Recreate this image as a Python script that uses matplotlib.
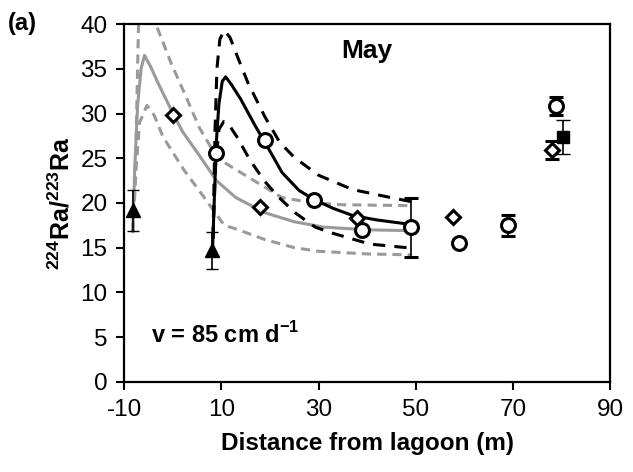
import matplotlib
matplotlib.use("Agg")
import matplotlib.pyplot as plt

plt.rcParams["font.family"] = ["Liberation Sans", "DejaVu Sans"]
plt.rcParams["axes.unicode_minus"] = False
plt.rcParams["mathtext.fontset"] = "custom"
plt.rcParams["mathtext.rm"] = "Liberation Sans"
plt.rcParams["mathtext.bf"] = "Liberation Sans:bold"

# model curves (x = distance, y = ratio)
gray_mid_x = [-8.2, -7.8, -7.2, -6.5, -5.8, -4.5, -3.0, -0.3, 2.0, 5.5, 9.0, 13.0, 19.0, 25.0, 31.0, 40.0, 49.0]
gray_mid_y = [16.8, 24.0, 31.0, 35.0, 36.5, 35.2, 33.4, 30.4, 28.0, 25.3, 22.5, 20.6, 18.9, 17.9, 17.3, 17.0, 16.9]

gray_hi_x = [-8.2, -7.6, -7.3, -7.0, -5.5, -3.4, -0.3, 2.8, 5.5, 9.0, 11.0, 15.5, 22.5, 29.0, 35.0, 49.0]
gray_hi_y = [16.8, 25.0, 33.0, 40.5, 43.0, 39.9, 35.6, 31.8, 28.4, 25.2, 24.4, 22.9, 20.6, 20.0, 19.8, 19.7]

gray_lo_x = [-8.2, -7.5, -6.8, -5.3, -3.8, -2.0, 2.3, 6.5, 10.6, 13.0, 19.0, 25.0, 30.0, 40.0, 49.0]
gray_lo_y = [16.8, 24.0, 29.0, 30.9, 29.8, 27.4, 23.7, 20.6, 17.5, 17.1, 15.9, 15.0, 14.6, 14.3, 14.2]

black_mid_x = [8.2, 8.6, 9.0, 9.5, 10.2, 10.9, 12.0, 14.0, 17.0, 20.0, 22.5, 26.0, 29.0, 33.0, 37.0, 42.0, 49.0]
black_mid_y = [14.8, 21.0, 27.0, 31.0, 33.6, 34.1, 33.3, 31.6, 28.6, 25.8, 23.4, 21.4, 20.4, 19.4, 18.6, 18.1, 17.6]

black_hi_x = [8.3, 8.7, 9.1, 9.7, 10.6, 11.8, 13.0, 15.5, 19.0, 22.0, 25.0, 30.0, 37.0, 44.0, 49.5]
black_hi_y = [16.0, 28.0, 35.0, 38.3, 39.3, 38.5, 36.8, 33.4, 29.6, 26.8, 25.1, 23.1, 21.5, 20.7, 20.1]

black_lo_x = [8.3, 8.8, 9.5, 10.5, 11.5, 13.2, 15.9, 18.8, 21.7, 25.2, 29.3, 33.0, 40.6, 48.2]
black_lo_y = [16.0, 24.0, 28.2, 29.1, 28.8, 27.4, 24.8, 22.5, 20.7, 18.9, 17.3, 16.6, 15.4, 15.0]

# measured points
circle_x = [8.9, 19.0, 29.0, 39.0, 49.0, 58.8, 69.0, 78.9]
circle_y = [25.6, 27.0, 20.3, 17.0, 17.3, 15.5, 17.5, 30.8]
circle_err = [0, 0, 0, 0, 3.3, 0, 1.2, 1.0]

diamond_x = [0.0, 18.0, 37.9, 57.7, 78.0]
diamond_y = [29.8, 19.6, 18.3, 18.4, 25.9]
diamond_err = [0, 0, 0, 0, 1.0]

square_x = [80.3]
square_y = [27.4]
square_err = [1.9]

tri_x = [-8.1, 8.1]
tri_y = [19.2, 14.7]
tri_err = [2.3, 2.1]

fig = plt.figure(figsize=(6.33, 4.72), dpi=100)
ax = fig.add_axes([0.196, 0.191, 0.768, 0.758])

gray = "#9a9a9a"
ax.plot(gray_hi_x, gray_hi_y, color=gray, lw=2.2, dashes=(3, 2))
ax.plot(gray_lo_x, gray_lo_y, color=gray, lw=2.2, dashes=(3, 2))
ax.plot(gray_mid_x, gray_mid_y, color=gray, lw=2.2)

ax.plot(black_hi_x, black_hi_y, color="black", lw=2.2, dashes=(4, 3))
ax.plot(black_lo_x, black_lo_y, color="black", lw=2.2, dashes=(4, 3))
ax.plot(black_mid_x, black_mid_y, color="black", lw=2.2)

ax.errorbar(tri_x, tri_y, yerr=tri_err, fmt="^", color="black", ms=10,
            ecolor="black", elinewidth=1.2, capsize=4, zorder=5)
ax.errorbar(circle_x, circle_y, yerr=circle_err, fmt="o", mfc="white", mec="black",
            mew=2.2, ms=10, ecolor="black", elinewidth=1.2, capsize=5, zorder=6)
ax.errorbar(diamond_x, diamond_y, yerr=diamond_err, fmt="D", mfc="white", mec="black",
            mew=2.2, ms=7.5, ecolor="black", elinewidth=1.2, capsize=5, zorder=6)
ax.errorbar(square_x, square_y, yerr=square_err, fmt="s", color="black", ms=9,
            ecolor="black", elinewidth=1.2, capsize=5, zorder=6)

ax.set_xlim(-10, 90)
ax.set_ylim(0, 40)
ax.set_xticks([-10, 10, 30, 50, 70, 90])
ax.set_yticks(range(0, 41, 5))
ax.tick_params(direction="out", length=6, width=1.5, labelsize=17.5, pad=6)
for s in ax.spines.values():
    s.set_linewidth(1.6)

ax.set_xlabel("Distance from lagoon (m)", fontsize=17.5, fontweight="bold", labelpad=8)
ax.set_ylabel(r"$^{\mathbf{224}}$Ra/$^{\mathbf{223}}$Ra", fontsize=18, fontweight="bold", labelpad=4)

ax.text(0.5, 0.925, "May", transform=ax.transAxes, ha="center", va="center",
        fontsize=19, fontweight="bold")
ax.text(0.055, 0.13, r"v = 85 cm d$^{\mathbf{-1}}$", transform=ax.transAxes, ha="left",
        va="center", fontsize=17, fontweight="bold")
fig.text(0.013, 0.95, "(a)", ha="left", va="center", fontsize=17, fontweight="bold")

fig.savefig("out.png", dpi=100)
